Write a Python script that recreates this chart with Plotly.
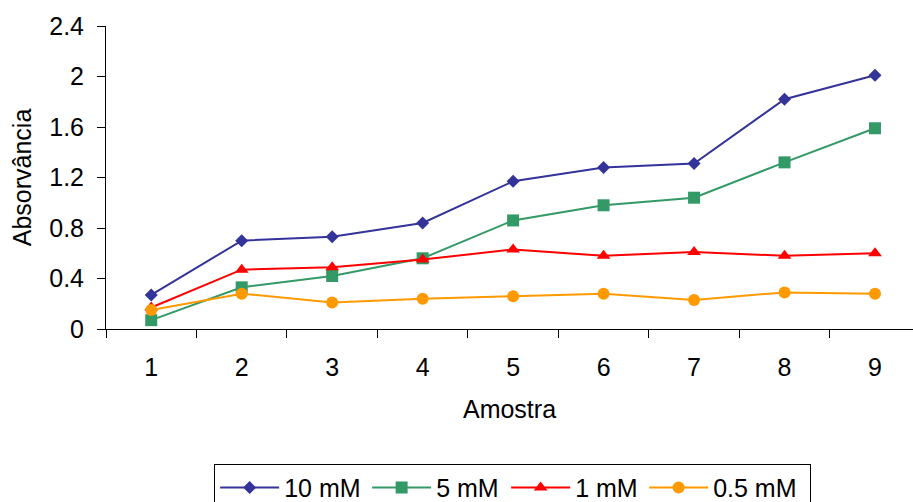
import plotly.graph_objects as go

# Amostras analisadas e absorvância medida para cada concentração
amostras = ["1", "2", "3", "4", "5", "6", "7", "8", "9"]
abs_10mM = [0.27, 0.70, 0.73, 0.84, 1.17, 1.28, 1.31, 1.82, 2.01]
abs_5mM = [0.07, 0.33, 0.42, 0.56, 0.86, 0.98, 1.04, 1.32, 1.59]
abs_1mM = [0.17, 0.47, 0.49, 0.55, 0.63, 0.58, 0.61, 0.58, 0.60]
abs_05mM = [0.15, 0.28, 0.21, 0.24, 0.26, 0.28, 0.23, 0.29, 0.28]
y_ticks = [0, 0.4, 0.8, 1.2, 1.6, 2, 2.4]

# name, values, colour, marker symbol, marker size, legend entry width (px)
series = [
    ("10 mM", abs_10mM, "#333399", "diamond", 10, 78),
    ("5 mM", abs_5mM, "#339966", "square", 12, 65),
    ("1 mM", abs_1mM, "#FF0000", "triangle-up", 12, 64),
    ("0.5 mM", abs_05mM, "#FF9900", "circle", 12, 92),
]

FONT = "Liberation Sans, Arial, sans-serif"
FS = 25

fig = go.Figure()
for name, vals, color, symbol, size, lw in series:
    fig.add_trace(go.Scatter(
        x=amostras, y=vals, name=name, mode="lines+markers",
        line=dict(color=color, width=2),
        marker=dict(symbol=symbol, size=size, color=color),
        legendwidth=lw,
    ))

fig.update_layout(
    width=913, height=502,
    margin=dict(l=106, r=0, t=26, b=173, autoexpand=False),
    paper_bgcolor="white", plot_bgcolor="white",
    font=dict(family=FONT, size=FS, color="black"),
    showlegend=True,
    legend=dict(
        orientation="h", x=0.134, xanchor="left", y=-0.445, yanchor="top",
        bordercolor="black", borderwidth=1, font=dict(family=FONT, size=FS),
        itemwidth=59, tracegroupgap=0,
    ),
)
fig.update_xaxes(
    type="category", range=[-0.5, 8.42], automargin=False,
    showline=True, linecolor="black", linewidth=1,
    ticks="outside", ticklen=8, tickcolor="black", tickson="boundaries",
    tickfont=dict(family=FONT, size=FS), ticklabelstandoff=16,
    showgrid=False, zeroline=False,
    title=dict(text="Amostra", font=dict(family=FONT, size=FS), standoff=20),
)
fig.update_yaxes(
    range=[0, 2.4], tickvals=y_ticks, ticktext=[f"{v:g}" for v in y_ticks],
    automargin=False,
    showline=True, linecolor="black", linewidth=1,
    ticks="outside", ticklen=8, tickcolor="black",
    tickfont=dict(family=FONT, size=FS), ticklabelstandoff=8,
    showgrid=False, zeroline=False,
    title=dict(text="Absorvância", font=dict(family=FONT, size=FS), standoff=10),
)

fig.write_html("out.html")
